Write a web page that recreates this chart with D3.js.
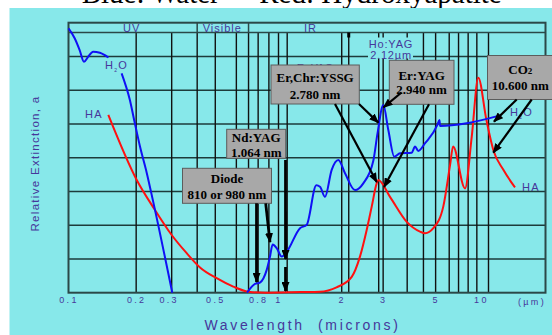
<!DOCTYPE html>
<html>
<head>
<meta charset="utf-8">
<script src="https://cdn.jsdelivr.net/npm/d3@7"></script>
<style>
body { margin: 0; background: #fff; }
svg { display: block; }
</style>
</head>
<body>
<div id="chart"></div>
<script>
// wavelength (microns) vs relative extinction (grid units, 0-8)
const waterUV1 = [[0.1, 7.83], [0.107, 7.54], [0.113, 7.19], [0.1185, 6.84], [0.124, 6.99], [0.131, 7.14], [0.141, 7.11], [0.155, 6.97]];
const waterUV2 = [[0.179, 6.5], [0.196, 5.71], [0.207, 5.02], [0.219, 4.33], [0.236, 3.54], [0.252, 2.75], [0.312, 0]];
const waterIR = [[0.708, 0], [0.773, 0.26], [0.816, 0.3], [0.878, 0.67], [0.911, 1.07], [0.938, 1.43], [0.98, 1.32],
  [1.036, 1.07], [1.094, 1.21], [1.266, 1.91], [1.362, 2.01], [1.514, 3.18], [1.576, 3.14], [1.665, 2.84],
  [1.792, 3.64], [1.927, 3.93], [2.074, 3.54], [2.314, 3.04], [2.534, 3.24], [2.828, 3.91], [2.961, 4.72],
  [3.155, 5.56], [3.334, 4.82], [3.559, 4.03], [3.79, 4.13], [4.31, 4.15], [4.47, 4.33], [4.63, 4.2],
  [4.99, 4.43], [5.71, 4.97], [5.84, 5.12], [5.88, 4.94], [7.87, 5.02], [11.14, 5.24]];
const hydroxyapatite = [[0.1547, 5.27], [0.2113, 3.34], [0.2582, 2.45], [0.31, 1.71], [0.3655, 1.17], [0.4228, 0.75],
  [0.5078, 0.43], [0.609, 0.18], [0.718, 0.03], [0.87, 0], [1.27, 0.02], [1.576, 0.03], [1.89, 0.16],
  [2.232, 0.47], [2.443, 1.07], [2.63, 1.86], [2.779, 2.55], [2.935, 3.24], [2.987, 3.34], [3.396, 2.84],
  [4.08, 2.1], [4.72, 1.81], [4.99, 1.76], [5.46, 1.91], [6.09, 2.55], [6.56, 3.78], [6.78, 4.33],
  [7.73, 3.09], [8.32, 4.62], [8.94, 6.37], [9.77, 5.12], [10.54, 4.23], [11.77, 3.64], [13.37, 3.12]];

const tickLabels = ["0.1", "0.2", "0.3", "0.5", "0.8", "1", "2", "3", "5", "10"];
const tickAt = [0.1, 0.21, 0.3, 0.5, 0.8, 1, 2, 3.15, 5.6, 9.2];
const gridAt = [0.21, 0.31, 0.41, 0.5, 0.63, 0.72, 0.8, 0.9, 1, 1.1, 2, 2.16, 3, 3.15, 4.1, 4.9, 5.6, 6.5, 7.2, 8, 8.8, 10];
const bandNames = ["UV", "Visible", "IR"];
const bandEdges = [0.41, 0.72];
const bandLabelAt = [0.2, 0.54, 1.42];

const laserNames = [["Diode", "810 or 980 nm"], ["Nd:YAG", "1.064 nm"], ["Er,Chr:YSSG", "2.780 nm"], ["Er:YAG", "2.940 nm"], ["CO2", "10.600 nm"]];
const laserTargets = [
  [[0.786, 0.32], [0.911, 1.5]],
  [[1.08, 1.0], [1.08, 0.05]],
  [[2.935, 3.28], [2.987, 5.04]],
  [[3.162, 5.49], [3.18, 3.13]],
  [[10.62, 5.07], [10.54, 4.15]]
];

// layout
const W = 552, H = 335;
const plot = { left: 68.5, right: 545.5, top: 22.7, band: 32.5, bottom: 292.7 };
const ink = "#46379a";
const boxes = [[182.5, 168.3, 271.5, 203.3], [226.7, 129.3, 285.7, 158.3], [271, 65, 359.3, 104], [389.3, 60.3, 454, 104.3], [487.5, 55.5, 553, 99.5]];
const boxBaselines = [[182.8, 198.5], [141.5, 156.5], [82, 98.5], [79.5, 94], [74, 89.5]];
const arrowStarts = [
  [[256.5, 203.3], [265.7, 203.3]],
  [[285.5, 160], [285.5, 267]],
  [[335, 104], [359, 104]],
  [[401.5, 92.5], [429, 104.3]],
  [[516.7, 99.5], [531.7, 99.5]]
];

const x = d3.scaleLog().domain([0.1, 10]).range([plot.left, 488.5]);
const y = d3.scaleLinear().domain([0, 8]).range([plot.bottom, plot.top]);

const svg = d3.select("#chart").append("svg")
  .attr("width", W)
  .attr("height", H);

// title (mostly cut off at the top)
svg.append("text")
  .attr("x", 81.7).attr("y", 3)
  .attr("font-family", "Liberation Serif, Times New Roman, serif")
  .attr("font-size", 29)
  .text("Blue: Water");
svg.append("text")
  .attr("x", 501.7).attr("y", 3)
  .attr("text-anchor", "end")
  .attr("font-family", "Liberation Serif, Times New Roman, serif")
  .attr("font-size", 29)
  .text("Red: Hydroxyapatite");

svg.append("rect")
  .attr("x", 9.5).attr("y", 8)
  .attr("width", W - 9.5).attr("height", H - 8)
  .attr("fill", "#87e8ea");

// horizontal grid
svg.append("g").selectAll("line")
  .data(d3.range(1, 8))
  .join("line")
  .attr("x1", plot.left).attr("x2", plot.right)
  .attr("y1", d => y(d)).attr("y2", d => y(d))
  .attr("stroke", "#1d3b3b").attr("stroke-width", 1.5);

// vertical grid
svg.append("g").selectAll("line")
  .data(gridAt)
  .join("line")
  .attr("x1", d => x(d)).attr("x2", d => x(d))
  .attr("y1", plot.band).attr("y2", plot.bottom)
  .attr("stroke", "#111").attr("stroke-width", 1.4);

// band row
svg.append("line")
  .attr("x1", plot.left).attr("x2", plot.right)
  .attr("y1", plot.band).attr("y2", plot.band)
  .attr("stroke", "#2b4848").attr("stroke-width", 1.5);
svg.append("g").selectAll("line")
  .data(bandEdges)
  .join("line")
  .attr("x1", d => x(d)).attr("x2", d => x(d))
  .attr("y1", plot.top).attr("y2", plot.band)
  .attr("stroke", "#2b4848").attr("stroke-width", 1.5);
svg.append("g").selectAll("text")
  .data(bandNames)
  .join("text")
  .attr("x", (d, i) => x(bandLabelAt[i]))
  .attr("y", 31.5)
  .attr("text-anchor", "middle")
  .attr("font-family", "Liberation Sans, Arial, sans-serif")
  .attr("font-size", 11)
  .attr("letter-spacing", 1)
  .attr("fill", ink)
  .text(d => d);

// frame
svg.append("rect")
  .attr("x", plot.left).attr("y", plot.top)
  .attr("width", plot.right - plot.left)
  .attr("height", plot.bottom - plot.top)
  .attr("fill", "none")
  .attr("stroke", "#2b4848").attr("stroke-width", 2);

// Ho:YAG label over the grid
svg.append("rect")
  .attr("x", 368).attr("y", 37.5)
  .attr("width", 45).attr("height", 21)
  .attr("fill", "#87e8ea");
svg.append("line")
  .attr("x1", x(2.16)).attr("x2", x(2.16))
  .attr("y1", plot.band).attr("y2", plot.band + 5)
  .attr("stroke", "#000").attr("stroke-width", 3);
const hoText = svg.append("text")
  .attr("text-anchor", "middle")
  .attr("font-family", "Liberation Sans, Arial, sans-serif")
  .attr("font-size", 11)
  .attr("letter-spacing", 0.8)
  .attr("fill", ink);
hoText.append("tspan").attr("x", 391).attr("y", 47.5).text("Ho:YAG");
hoText.append("tspan").attr("x", 391).attr("y", 58.5).text("2.12µm");

// text hidden mostly behind the Er,Chr:YSSG box
svg.append("text")
  .attr("x", 315).attr("y", 72)
  .attr("text-anchor", "middle")
  .attr("font-family", "Liberation Sans, Arial, sans-serif")
  .attr("font-size", 11)
  .attr("fill", ink)
  .text("Er:YAG");

// curves
const line = d3.line()
  .x(d => x(d[0]))
  .y(d => y(d[1]))
  .curve(d3.curveMonotoneX);

svg.append("path")
  .datum(hydroxyapatite)
  .attr("d", line)
  .attr("fill", "none")
  .attr("stroke", "#ff1010")
  .attr("stroke-width", 2);

svg.append("g").selectAll("path")
  .data([waterUV1, waterUV2, waterIR])
  .join("path")
  .attr("d", line)
  .attr("fill", "none")
  .attr("stroke", "#1010f5")
  .attr("stroke-width", 2);

// curve labels
function chemLabel(px, py, sub) {
  const t = svg.append("text")
    .attr("x", px).attr("y", py)
    .attr("font-family", "Liberation Sans, Arial, sans-serif")
    .attr("font-size", 11)
    .attr("letter-spacing", 1.2)
    .attr("fill", ink);
  if (sub) {
    t.append("tspan").text("H");
    t.append("tspan").attr("font-size", 5).attr("dy", 3).text("2");
    t.append("tspan").attr("dy", -3).text("O");
  } else {
    t.text("HA");
  }
}
chemLabel(105, 69, true);
chemLabel(510, 116, true);
chemLabel(85, 117.5, false);
chemLabel(522, 191, false);

// x axis labels
const xAxis = d3.axisBottom(x)
  .tickValues(tickAt)
  .tickFormat((d, i) => tickLabels[i])
  .tickSize(0)
  .tickPadding(0);
const axisG = svg.append("g")
  .attr("transform", "translate(0,297)")
  .call(xAxis);
axisG.select(".domain").remove();
axisG.selectAll("text")
  .attr("font-family", "Liberation Sans, Arial, sans-serif")
  .attr("font-size", 9)
  .attr("letter-spacing", 2.3)
  .attr("fill", ink);

svg.append("text")
  .attr("x", 532).attr("y", 305)
  .attr("text-anchor", "middle")
  .attr("font-family", "Liberation Sans, Arial, sans-serif")
  .attr("font-size", 9)
  .attr("letter-spacing", 2.3)
  .attr("fill", ink)
  .text("(µm)");

svg.append("text")
  .attr("x", 302.5).attr("y", 330)
  .attr("text-anchor", "middle")
  .attr("font-family", "Liberation Sans, Arial, sans-serif")
  .attr("font-size", 14)
  .attr("letter-spacing", 2.7)
  .attr("fill", ink)
  .style("white-space", "pre")
  .text("Wavelength  (microns)");

svg.append("text")
  .attr("transform", "translate(38.5,163.5) rotate(-90)")
  .attr("text-anchor", "middle")
  .attr("font-family", "Liberation Sans, Arial, sans-serif")
  .attr("font-size", 11.5)
  .attr("letter-spacing", 1.3)
  .attr("fill", ink)
  .text("Relative Extinction, a");

// laser boxes
const boxG = svg.append("g").selectAll("g")
  .data(laserNames)
  .join("g");
boxG.append("rect")
  .attr("x", (d, i) => boxes[i][0])
  .attr("y", (d, i) => boxes[i][1])
  .attr("width", (d, i) => boxes[i][2] - boxes[i][0])
  .attr("height", (d, i) => boxes[i][3] - boxes[i][1])
  .attr("fill", "#a8a8a8")
  .attr("stroke", "#5c5c5c")
  .attr("stroke-width", 1);
boxG.each(function (d, i) {
  const cx = (boxes[i][0] + boxes[i][2]) / 2;
  d.forEach((txt, k) => {
    const t = d3.select(this).append("text")
      .attr("x", cx).attr("y", boxBaselines[i][k])
      .attr("text-anchor", "middle")
      .attr("font-family", "Liberation Serif, Times New Roman, serif")
      .attr("font-weight", "bold")
      .attr("font-size", 13)
      .attr("fill", "#000");
    if (txt === "CO2") {
      t.append("tspan").text("CO");
      t.append("tspan").attr("font-size", 9).text("2");
    } else {
      t.text(txt);
    }
  });
});

// arrows
const defs = svg.append("defs");
defs.append("marker")
  .attr("id", "head")
  .attr("markerUnits", "userSpaceOnUse")
  .attr("markerWidth", 10).attr("markerHeight", 8)
  .attr("refX", 9).attr("refY", 4)
  .attr("orient", "auto")
  .append("path")
  .attr("d", "M0,0L10,4L0,8Z")
  .attr("fill", "#000");

const arrows = [];
laserTargets.forEach((targets, i) => {
  targets.forEach((t, k) => arrows.push({ from: arrowStarts[i][k], to: t, thick: i < 2 }));
});
svg.append("g").selectAll("line")
  .data(arrows)
  .join("line")
  .attr("x1", d => d.from[0]).attr("y1", d => d.from[1])
  .attr("x2", d => x(d.to[0])).attr("y2", d => y(d.to[1]))
  .attr("stroke", "#000")
  .attr("stroke-width", d => d.thick ? 2.8 : 2.2)
  .attr("marker-end", "url(#head)");
</script>
</body>
</html>
